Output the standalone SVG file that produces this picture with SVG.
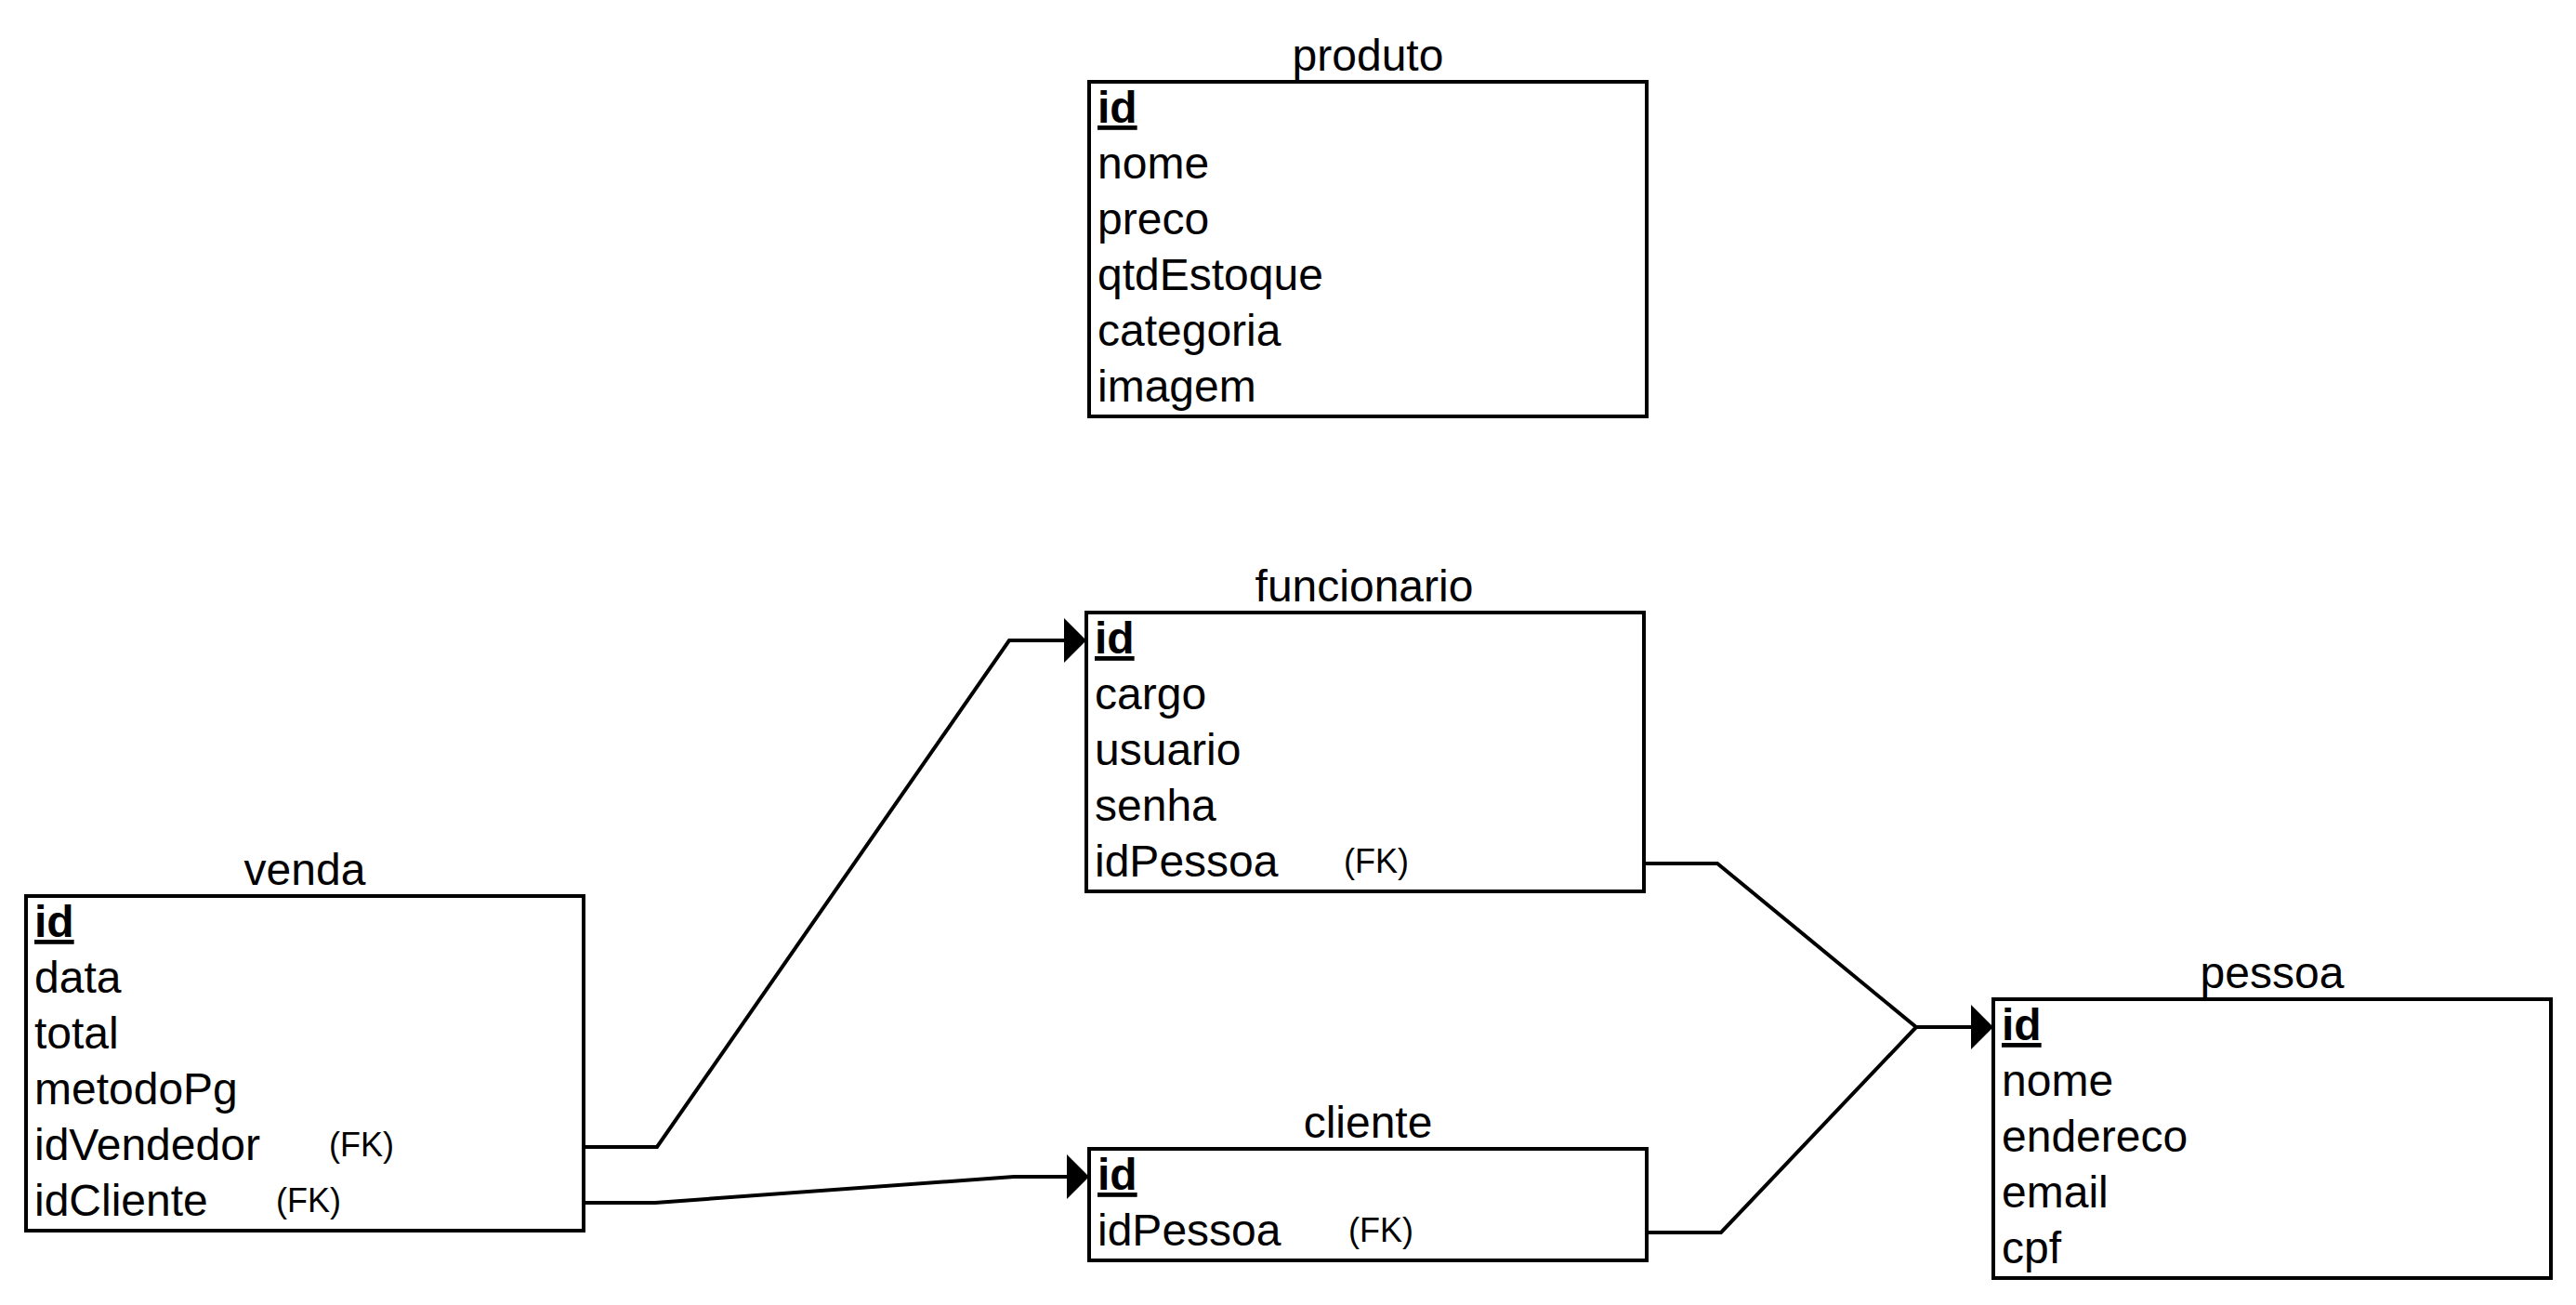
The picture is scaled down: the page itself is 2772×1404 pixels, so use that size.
<svg xmlns="http://www.w3.org/2000/svg" width="2772" height="1404" viewBox="0 0 2772 1404">
<style>
  .box { fill: #fff; stroke: #000; stroke-width: 4; }
  .t { font-family: "Liberation Sans", Arial, sans-serif; font-size: 48px; fill: #000; }
  .title { text-anchor: middle; }
  .pk { font-weight: bold; text-decoration: underline; }
  .fk { font-family: "Liberation Sans", Arial, sans-serif; font-size: 36px; fill: #000; }
  .edge { fill: none; stroke: #000; stroke-width: 4; stroke-linejoin: miter; }
</style>
<defs>
  <marker id="arrow" viewBox="0 0 24 48" refX="0" refY="24" markerWidth="24" markerHeight="48" markerUnits="userSpaceOnUse" orient="auto">
    <path d="M0,0 L24,24 L0,48 Z" fill="#000"/>
  </marker>
</defs>
<rect width="2772" height="1404" fill="#fff"/>

<g id="connectors">
  <path class="edge" d="M628,1234 L707,1234 L1086,689 L1145,689" marker-end="url(#arrow)"/>
  <path class="edge" d="M628,1294 L705,1294 L1091,1266 L1148,1266" marker-end="url(#arrow)"/>
  <path class="edge" d="M1768,929 L1848,929 L2062,1105 L2121,1105" marker-end="url(#arrow)"/>
  <path class="edge" d="M1772,1326 L1852,1326 L2062,1105"/>
</g>

<g id="produto">
  <text class="t title" x="1472" y="76">produto</text>
  <rect class="box" x="1172" y="88" width="600" height="360"/>
  <text class="t pk" x="1181" y="132">id</text>
  <text class="t" x="1181" y="192">nome</text>
  <text class="t" x="1181" y="252">preco</text>
  <text class="t" x="1181" y="312">qtdEstoque</text>
  <text class="t" x="1181" y="372">categoria</text>
  <text class="t" x="1181" y="432">imagem</text>
</g>

<g id="funcionario">
  <text class="t title" x="1468" y="647">funcionario</text>
  <rect class="box" x="1169" y="659" width="600" height="300"/>
  <text class="t pk" x="1178" y="703">id</text>
  <text class="t" x="1178" y="763">cargo</text>
  <text class="t" x="1178" y="823">usuario</text>
  <text class="t" x="1178" y="883">senha</text>
  <text class="t" x="1178" y="943">idPessoa</text>
  <text class="fk" x="1446" y="939">(FK)</text>
</g>

<g id="venda">
  <text class="t title" x="328" y="952">venda</text>
  <rect class="box" x="28" y="964" width="600" height="360"/>
  <text class="t pk" x="37" y="1008">id</text>
  <text class="t" x="37" y="1068">data</text>
  <text class="t" x="37" y="1128">total</text>
  <text class="t" x="37" y="1188">metodoPg</text>
  <text class="t" x="37" y="1248">idVendedor</text>
  <text class="fk" x="354" y="1244">(FK)</text>
  <text class="t" x="37" y="1308">idCliente</text>
  <text class="fk" x="297" y="1304">(FK)</text>
</g>

<g id="cliente">
  <text class="t title" x="1472" y="1224">cliente</text>
  <rect class="box" x="1172" y="1236" width="600" height="120"/>
  <text class="t pk" x="1181" y="1280">id</text>
  <text class="t" x="1181" y="1340">idPessoa</text>
  <text class="fk" x="1451" y="1336">(FK)</text>
</g>

<g id="pessoa">
  <text class="t title" x="2445" y="1063">pessoa</text>
  <rect class="box" x="2145" y="1075" width="600" height="300"/>
  <text class="t pk" x="2154" y="1119">id</text>
  <text class="t" x="2154" y="1179">nome</text>
  <text class="t" x="2154" y="1239">endereco</text>
  <text class="t" x="2154" y="1299">email</text>
  <text class="t" x="2154" y="1359">cpf</text>
</g>
</svg>
